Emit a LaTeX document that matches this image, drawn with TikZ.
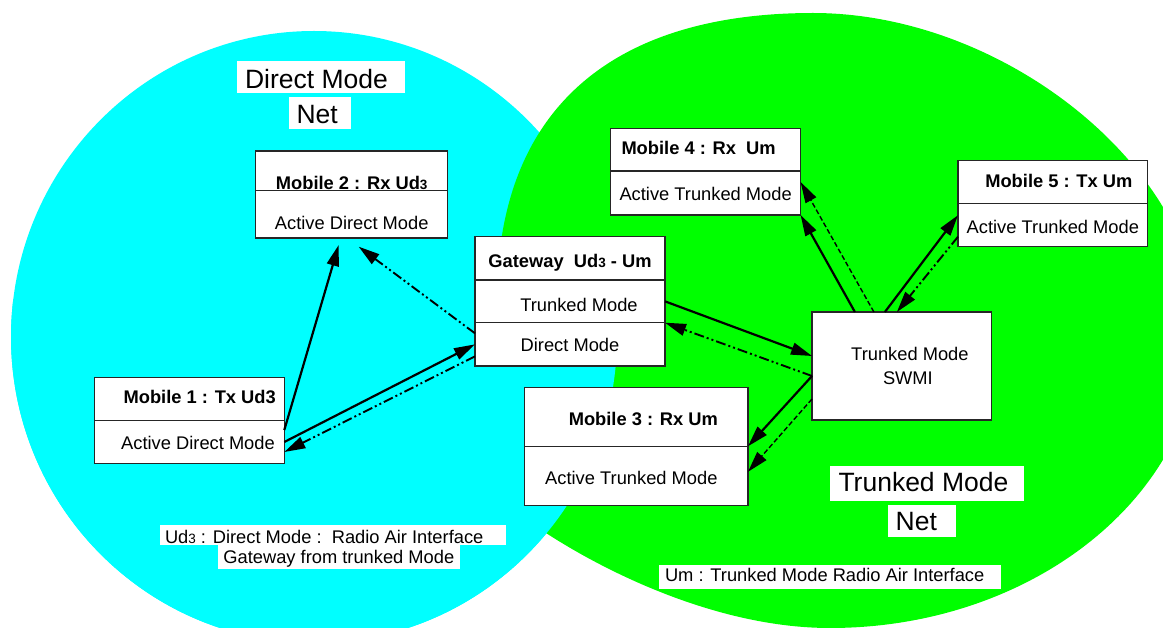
\documentclass[tikz,border=0pt]{standalone}
\usepackage{fontspec}
\setmainfont{Liberation Sans}
\usetikzlibrary{positioning,arrows.meta}
\definecolor{dmcyan}{RGB}{0,255,255}
\definecolor{tmgreen}{RGB}{0,255,0}
\newcommand{\subthree}{{\fontsize{13.5}{14}\selectfont 3}}
\newcommand{\lft}[2]{\makebox[#1][l]{#2}}
\newcommand{\rgt}[2]{\makebox[#1][r]{#2}}

\begin{document}
\begin{tikzpicture}[x=1pt,y=-1pt,
        cell/.style={draw=black!85,line width=1.1pt,fill=white,inner sep=0pt,outer sep=0pt,text depth=0pt,font=\fontsize{18.3}{22}\selectfont},
        ttl/.style={cell,font=\fontsize{18.3}{22}\selectfont\bfseries},
        tag/.style={fill=white,inner sep=0pt,outer sep=0pt,anchor=north west,text depth=0pt},
        big/.style={tag,font=\fontsize{26.5}{30}\selectfont},
        note/.style={tag,font=\fontsize{18.3}{22}\selectfont},
        radio/.style={line width=2.2pt,-{Triangle[length=21pt,width=12pt]}},
        reply/.style={radio,line width=1.9pt,dash pattern=on 10pt off 3pt on 2pt off 3pt on 2pt off 3pt},
        relay/.style={radio,line width=1.4pt,dash pattern=on 5pt off 2.5pt}]
    \useasboundingbox (0,0) rectangle (1163,628);
    \clip (0,0) rectangle (1163,628);

    % the two nets
    \fill[dmcyan] (314,337) ellipse [x radius=303,y radius=306];
    \fill[tmgreen] (497,300) .. controls (497,113) and (608,13) .. (813,13)
        .. controls (1006,13) and (1200,171) .. (1200,330)
        .. controls (1200,494) and (1034,628) .. (830,628)
        .. controls (720,628) and (609,574) .. (546,533)
        .. controls (510,480) and (497,400) .. cycle;
    \begin{scope}
        \clip (0,300) rectangle (700,628);
        \fill[dmcyan] (314,337) ellipse [x radius=303,y radius=306];
    \end{scope}

    \node[big,minimum width=168pt,minimum height=32pt,text height=22.6pt] (dmnet) at (236.5,61) {\lft{151pt}{Direct Mode}};
    \node[big,minimum width=61.5pt,minimum height=32pt,text height=20.6pt] (dmnet2) at (289,97) {\lft{46.3pt}{Net}};
    \node[big,minimum width=194pt,minimum height=34.7pt,text height=16.7pt] (tmnet) at (830,466) {\lft{177pt}{Trunked Mode}};
    \node[big,minimum width=67.6pt,minimum height=31.7pt,text height=19.7pt] (tmnet2) at (888,505) {\lft{52.2pt}{Net}};
    \node[note,minimum width=346pt,minimum height=19.7pt,text height=16.3pt] (udkey) at (160,525.3) {\lft{336pt}{Ud\subthree{} : Direct Mode :\ \ Radio Air Interface}};
    \node[note,minimum width=242pt,minimum height=24.3pt,text height=12.3pt] (udkey2) at (218,545) {\lft{231.2pt}{Gateway from trunked Mode}};
    \node[note,minimum width=341.5pt,minimum height=24.3pt,text height=9.1pt] (umkey) at (659,565) {\lft{329.5pt}{Um : Trunked Mode Radio Air Interface}};

    % mobiles
    \node[ttl,minimum width=192.2pt,minimum height=39.7pt,text height=36.9pt] (m2t) at (351.7,170.85) {Mobile 2 : Rx Ud\subthree};
    \node[cell,below=0pt of m2t,minimum width=192.2pt,minimum height=47.3pt,text height=31.3pt] (m2b) {Active Direct Mode};

    \node[ttl,minimum width=190pt,minimum height=43pt,text height=8.2pt] (m1t) at (189.3,399.2) {\rgt{173pt}{Mobile 1 : Tx Ud3}};
    \node[cell,below=0pt of m1t,minimum width=190pt,minimum height=42.6pt,text height=14.6pt] (m1b) {\rgt{171pt}{Active Direct Mode}};

    \node[ttl,minimum width=190pt,minimum height=43.3pt,text height=17.9pt] (gwh) at (570,258.35) {Gateway\ \ Ud\subthree{} - Um};
    \node[cell,below=0pt of gwh,minimum width=190pt,minimum height=42.7pt,text height=20.7pt] (gwt) {\hspace*{18pt}Trunked Mode};
    \node[cell,below=0pt of gwt,minimum width=190pt,minimum height=43.3pt,text height=14.7pt] (gwd) {Direct Mode};

    \node[ttl,minimum width=189.9pt,minimum height=42.7pt,text height=10.7pt] (m4t) at (705.65,149.65) {\lft{168.3pt}{Mobile 4 : Rx\ \ Um}};
    \node[cell,below=0pt of m4t,minimum width=189.9pt,minimum height=44pt,text height=15.4pt] (m4b) {Active Trunked Mode};

    \node[ttl,minimum width=189.7pt,minimum height=43pt,text height=10.2pt] (m5t) at (1052.85,182.2) {\hspace*{12pt}Mobile 5 : Tx Um};
    \node[cell,below=0pt of m5t,minimum width=189.7pt,minimum height=43pt,text height=17.6pt] (m5b) {Active Trunked Mode};

    \node[ttl,minimum width=223.3pt,minimum height=59pt,text height=18.4pt] (m3t) at (636.35,416.8) {\hspace*{14pt}Mobile 3 : Rx Um};
    \node[cell,below=0pt of m3t,minimum width=223.3pt,minimum height=59pt,text height=16.4pt] (m3b) {Active Trunked Mode\hspace*{10pt}};

    \node[cell,minimum width=179.8pt,minimum height=108pt,align=center,text depth=,font=\fontsize{18.3}{23.3}\selectfont] (swmi) at (901.9,366) {\hspace*{16pt}Trunked Mode\\\hspace*{12pt}SWMI};

    % radio links
    \draw[radio] ([yshift=12pt]m1b.east) -- ([xshift=-13pt,yshift=-7pt]m2b.south);
    \draw[reply] ([yshift=11pt]gwd.west) -- ([xshift=7pt,yshift=-8.7pt]m2b.south);
    \draw[radio] (m1b.east) -- (gwd.west);
    \draw[reply] ([yshift=-12pt]gwd.west) -- ([yshift=-10pt]m1b.east);
    \draw[radio] (gwt.east) -- ([yshift=10pt]swmi.west);
    \draw[reply] ([yshift=-10pt]swmi.west) -- (gwt.south east);
    \draw[radio] ([yshift=-10pt]swmi.west) -- (m3b.north east);
    \draw[relay] ([yshift=-33pt]swmi.west) -- ([yshift=4pt]m3b.east);
    \draw[radio] ([xshift=-47pt]swmi.north) -- (m4b.south east);
    \draw[relay] ([xshift=-28pt]swmi.north) -- ([yshift=11pt]m4b.east);
    \draw[radio] ([xshift=-17pt]swmi.north) -- ([yshift=10pt]m5b.west);
    \draw[reply] ([yshift=-11.5pt]m5b.west) -- ([xshift=-5pt]swmi.north);
\end{tikzpicture}
\end{document}
